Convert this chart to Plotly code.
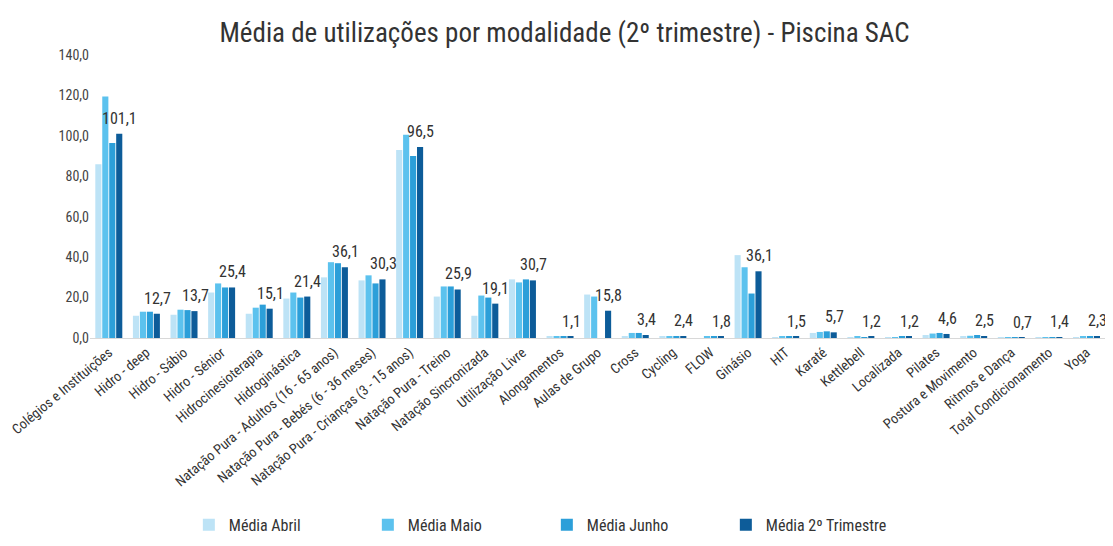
import plotly.graph_objects as go

categorias = [
    "Colégios e Instituições", "Hidro - deep", "Hidro - Sábio", "Hidro - Sénior",
    "Hidrocinesioterapia", "Hidroginástica", "Natação Pura - Adultos (16 - 65 anos)",
    "Natação Pura - Bebés (6 - 36 meses)", "Natação Pura - Crianças (3 - 15 anos)",
    "Natação Pura - Treino", "Natação Sincronizada", "Utilização Livre", "Alongamentos",
    "Aulas de Grupo", "Cross", "Cycling", "FLOW", "Ginásio", "HIT", "Karaté",
    "Kettlebell", "Localizada", "Pilates", "Postura e Movimento", "Ritmos e Dança",
    "Total Condicionamento", "Yoga",
]
media_abril = [86, 11, 11.5, 22.5, 12, 19.5, 30, 28.5, 93, 20.5, 11, 29, 0.8, 21.5,
               0.5, 1.0, 0.0, 41, 0.3, 2.5, 0.4, 0.2, 1.5, 0.5, 0.1, 0.1, 0.2]
media_maio = [119.5, 13, 14, 27, 15, 22.5, 37.5, 31, 100.5, 25.5, 21, 27.5, 0.8, 20.5,
              2.5, 1.0, 1.0, 35, 0.7, 3.0, 0.5, 0.3, 2.2, 1.1, 0.3, 0.4, 1.0]
media_junho = [96.5, 13, 13.8, 25, 16.5, 20, 37, 27, 90, 25.5, 20, 29, 0.6, 0.0,
               2.5, 1.0, 1.0, 22, 0.8, 3.3, 0.4, 0.8, 2.5, 1.5, 0.3, 0.4, 0.9]
media_trimestre = [101, 12, 13.3, 25, 14.5, 20.5, 35, 29, 94.5, 24, 17, 28.5, 0.6, 13.5,
                   1.5, 1.0, 0.5, 33, 0.6, 2.8, 0.5, 0.5, 2.0, 1.0, 0.1, 0.4, 0.8]
rotulos = ["101,1", "12,7", "13,7", "25,4", "15,1", "21,4", "36,1", "30,3", "96,5",
           "25,9", "19,1", "30,7", "1,1", "15,8", "3,4", "2,4", "1,8", "36,1", "1,5",
           "5,7", "1,2", "1,2", "4,6", "2,5", "0,7", "1,4", "2,3"]

series = [
    ("Média Abril", media_abril, "#bde3f6"),
    ("Média Maio", media_maio, "#5cc2ee"),
    ("Média Junho", media_junho, "#2c9fd9"),
    ("Média 2º Trimestre", media_trimestre, "#0d5c99"),
]

FONT = "Liberation Sans Narrow, Arial Narrow, Roboto Condensed, Liberation Sans, Arial, sans-serif"

fig = go.Figure()
for nome, vals, cor in series:
    fig.add_trace(go.Bar(name=nome, x=categorias, y=vals, marker_color=cor,
                         marker_line_width=0))

for cat, val, txt in zip(categorias, media_trimestre, rotulos):
    fig.add_annotation(x=cat, y=val, text=txt, showarrow=False, xref="x", yref="y",
                       xanchor="center", yanchor="bottom", xshift=11, yshift=4,
                       font=dict(size=16, color="#333333", family=FONT))

fig.update_layout(
    width=1113, height=546,
    barmode="group", bargap=0.26, bargroupgap=0.12,
    separators=",.",
    paper_bgcolor="white", plot_bgcolor="white",
    font=dict(family=FONT, color="#333333"),
    title=dict(text="Média de utilizações por modalidade (2º trimestre) - Piscina SAC",
               x=0.5, xanchor="center", y=0.955, yanchor="middle",
               font=dict(size=27, color="#333333", family=FONT, weight="normal")),
    margin=dict(l=82, r=12, t=47, b=211),
    showlegend=True,
    legend=dict(orientation="h", x=0.097, xanchor="left", y=-0.66, yanchor="middle",
                entrywidth=134, entrywidthmode="pixels",
                font=dict(size=16, color="#333333", family=FONT),
                itemwidth=30, traceorder="normal"),
)
fig.update_yaxes(range=[0, 140], dtick=20, tickformat=".1f", showgrid=False,
                 zeroline=False, showline=False, automargin=False,
                 tickfont=dict(size=14, color="#444444", family=FONT))
fig.update_xaxes(tickangle=-40, showline=True, linecolor="#d8d8d8", linewidth=1,
                 automargin=False,
                 tickfont=dict(size=14, color="#333333", family=FONT), ticks="")

fig.write_html("out.html")
